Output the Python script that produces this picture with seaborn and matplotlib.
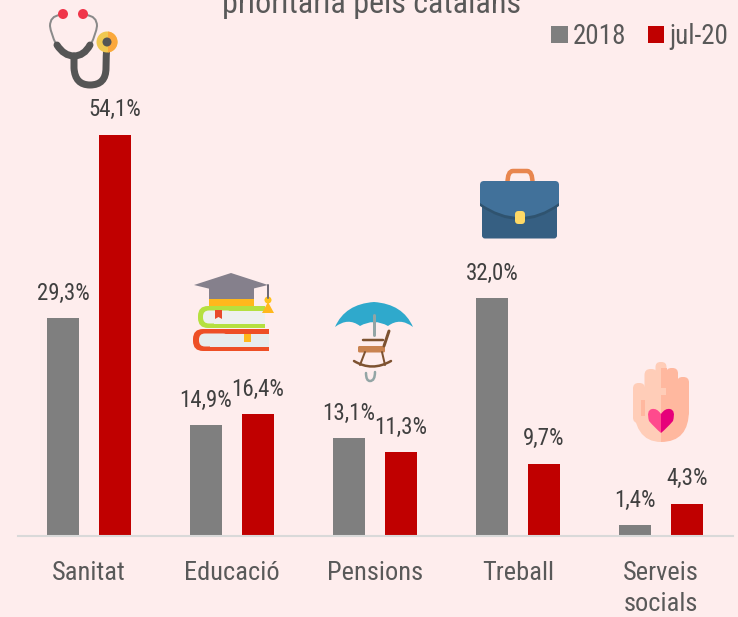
import numpy as np
import pandas as pd
import matplotlib.pyplot as plt
from matplotlib.patches import Circle, Rectangle, Polygon, FancyBboxPatch, PathPatch
from matplotlib.path import Path
import seaborn as sns

# data
temes = ['Sanitat', 'Educació', 'Pensions', 'Treball', 'Serveis\nsocials']
valors_2018 = [29.3, 14.9, 13.1, 32.0, 1.4]
valors_jul20 = [54.1, 16.4, 11.3, 9.7, 4.3]
series = ['2018', 'jul-20']
titol = 'prioritària pels catalans'

BG = '#FEEDED'
sns.set_theme(style='white')
plt.rcParams['font.family'] = ['Roboto Condensed', 'DejaVu Sans']
plt.rcParams['font.weight'] = 400

df = pd.DataFrame({
    'tema': temes * 2,
    'pct': valors_2018 + valors_jul20,
    'serie': [series[0]] * 5 + [series[1]] * 5,
})

fig = plt.figure(figsize=(7.38, 6.17), dpi=100, facecolor=BG)
ax = fig.add_axes([17.5 / 738, 1 - 535.5 / 617, 715 / 738, 535.5 / 617], facecolor='none')
sns.barplot(data=df, x='tema', y='pct', hue='serie', palette=['#7F7F7F', '#C00000'],
            width=0.727, gap=0.385, saturation=1, linewidth=0, ax=ax)
ax.set_xlim(-0.5, 4.5)
ax.set_ylim(0, 535.5 / 7.41)
ax.set_xlabel('')
ax.set_ylabel('')
ax.set_yticks([])
ax.tick_params(axis='x', length=0, pad=18.5, labelsize=19, labelcolor='#595959')
for lab in ax.get_xticklabels():
    lab.set_linespacing(1.37)
sns.despine(ax=ax, left=True)
ax.spines['bottom'].set_color('#D9D9D9')
ax.spines['bottom'].set_linewidth(1.5)

# value labels with a decimal comma
for cont, vals in zip(ax.containers, [valors_2018, valors_jul20]):
    ax.bar_label(cont, labels=[f'{v:.1f}%'.replace('.', ',') for v in vals],
                 padding=9.5, fontsize=16.5, color='#404040')

fig.text(372 / 738, 1 - 13 / 617, titol, ha='center', va='baseline', fontsize=23, color='#595959')

ax.legend(loc='upper right', bbox_to_anchor=((728 - 17.5) / 715, 1 - 23 / 535.5), frameon=False, ncols=2,
          fontsize=19.5, labelcolor='#595959', handlelength=0.6, handleheight=0.6,
          handletextpad=0.19, columnspacing=0.8, borderpad=0, borderaxespad=0)

# icons, in pixel coordinates on a transparent overlay
ic = fig.add_axes([0, 0, 1, 1], facecolor='none')
ic.set_xlim(0, 738)
ic.set_ylim(617, 0)
ic.axis('off')


def curve(pts, color, lw):
    codes = [Path.MOVETO] + [Path.CURVE3] * (len(pts) - 1)
    ic.add_patch(PathPatch(Path(pts, codes), fc='none', ec=color, lw=lw * 0.72, capstyle='round'))


def box(x, y, w, h, color, r=2):
    ic.add_patch(FancyBboxPatch((x + r, y + r), w - 2 * r, h - 2 * r, boxstyle=f'round,pad={r}',
                                fc=color, ec='none'))


def line(xs, ys, color, lw):
    ic.plot(xs, ys, color=color, lw=lw * 0.72, solid_capstyle='round')


# stethoscope
curve([(60, 15), (50, 16), (50, 26), (51, 34), (56, 44)], '#8A8A8A', 2)
curve([(86, 15), (97, 16), (97, 26), (96, 34), (91, 44)], '#8A8A8A', 2)
ic.add_patch(Circle((63, 14), 5, fc='#F0364A', ec='none'))
ic.add_patch(Circle((83, 14), 5, fc='#F0364A', ec='none'))
curve([(57, 45), (64, 56), (74, 56), (84, 56), (90, 45)], '#555555', 7)
curve([(74, 56), (74, 62), (74, 68), (75, 85), (90, 85), (106, 85), (106, 68), (106, 56), (107, 44)], '#555555', 7)
ic.add_patch(Circle((107, 42), 10.5, fc='#F0C850', ec='none'))
half = Rectangle((108, 31), 10, 22, fc='#FBA83C', ec='none')
ic.add_patch(half)
half.set_clip_path(Circle((107, 42), 10.5, transform=ic.transData))
ic.add_patch(Circle((107, 42), 4.5, fc='#555555', ec='none'))

# books and cap
box(193, 329, 40, 22, '#EE4F25', r=10)
ic.add_patch(Rectangle((205, 329), 64, 22, fc='#EE4F25', ec='none'))
box(199, 333.5, 30, 13, '#E8ECEC', r=6)
ic.add_patch(Rectangle((210, 333.5), 59, 13, fc='#E8ECEC', ec='none'))
ic.add_patch(Rectangle((244, 333.5), 7, 8, fc='#FFB81C', ec='none'))
box(198, 306, 40, 22, '#B5E03F', r=10)
ic.add_patch(Rectangle((210, 306), 55, 22, fc='#B5E03F', ec='none'))
box(203, 310.5, 30, 13, '#EEF0EE', r=6)
ic.add_patch(Rectangle((214, 310.5), 51, 13, fc='#EEF0EE', ec='none'))
ic.add_patch(Polygon([(215, 310), (222, 310), (222, 319), (218.5, 317), (215, 319)], fc='#E84A2A', ec='none'))
ic.add_patch(Rectangle((209, 285), 45, 15, fc='#85808C', ec='none'))
ic.add_patch(Rectangle((209, 299), 45, 7, fc='#FFB81C', ec='none'))
ic.add_patch(Polygon([(194, 285), (231, 273), (268, 285), (231, 294)], fc='#85808C', ec='none'))
line([268, 268], [285, 298], '#6E6A75', 2)
ic.add_patch(Circle((268, 300), 3.5, fc='#FFC21C', ec='none'))
ic.add_patch(Polygon([(262, 313), (274, 313), (268, 302)], fc='#FFB81C', ec='none'))

# umbrella and rocking chair
line([374, 374], [315, 335], '#93A5A5', 3)
canopy = [(335, 327), (345, 304), (374, 302), (403, 304), (413, 327),
          (400, 317), (388, 326), (374, 318), (360, 326), (348, 317), (335, 327)]
codes = [Path.MOVETO] + [Path.CURVE3] * 10
ic.add_patch(PathPatch(Path(canopy, codes), fc='#2FA9CC', ec='none'))
line([363, 383], [340, 340], '#7D5230', 2.5)
line([384, 389], [346, 331], '#7D5230', 3)
line([365, 360], [352, 365], '#7D5230', 2)
line([382, 385], [352, 365], '#7D5230', 2)
curve([(354, 361), (372, 372), (391, 361)], '#7D5230', 2.5)
box(358, 346, 27, 6.5, '#C98350', r=1.5)
curve([(375, 372), (375, 381), (370, 381), (366, 381), (366, 373)], '#93A5A5', 2.5)

# briefcase
handle = [(507.5, 183), (507.5, 171), (513, 171), (520, 171), (527, 171), (532.5, 171), (532.5, 183)]
curve(handle, '#E8864E', 4.5)
box(482, 195, 75, 43.5, '#365F82', r=3)
flap = [(480, 185), (480, 181), (484, 181), (555, 181), (559, 181), (559, 185), (559, 203),
        (520, 231), (480, 203), (480, 185)]
flap_codes = [Path.MOVETO, Path.CURVE3, Path.CURVE3, Path.LINETO, Path.CURVE3, Path.CURVE3,
              Path.LINETO, Path.CURVE3, Path.CURVE3, Path.CLOSEPOLY]
band = [(x, y + 3) for x, y in flap]
ic.add_patch(PathPatch(Path(band, flap_codes), fc='#2F536F', ec='none'))
ic.add_patch(PathPatch(Path(flap, flap_codes), fc='#41719A', ec='none'))
box(515, 211, 10, 13, '#FFD966', r=3.5)

# hand with heart
for x, top, w, col in [(639, 383, 12, '#FFCDB8'), (651, 369, 13, '#FFCDB8'),
                       (661, 362, 11, '#FFCDB8'), (672, 368, 12, '#FFB89F'), (683, 377, 12, '#FFB89F')]:
    box(x - w / 2, top, w, 40, col, r=w / 2 - 0.5)
ic.add_patch(Rectangle((661, 368), 5.5, 20, fc='#FFB89F', ec='none'))
ic.add_patch(PathPatch(Path([(633, 400), (633, 442), (661, 442), (661, 400), (633, 400)],
                            [Path.MOVETO, Path.CURVE3, Path.CURVE3, Path.LINETO, Path.CLOSEPOLY]),
                       fc='#FFCDB8', ec='none'))
ic.add_patch(PathPatch(Path([(661, 395), (689, 395), (689, 410), (689, 442), (661, 442), (661, 395)],
                            [Path.MOVETO, Path.LINETO, Path.LINETO, Path.CURVE3, Path.CURVE3, Path.CLOSEPOLY]),
                       fc='#FFB89F', ec='none'))
ic.add_patch(Rectangle((641, 400), 3.5, 16, fc='#FFB89F', ec='none'))
heart_l = [(661, 414), (657, 408), (652, 409), (646, 410), (649, 421), (655, 428), (661, 433)]
heart_r = [(661, 414), (665, 408), (670, 409), (676, 410), (673, 421), (667, 428), (661, 433)]
heart_codes = [Path.MOVETO] + [Path.CURVE3] * 6
ic.add_patch(PathPatch(Path(heart_l, heart_codes), fc='#FF4A8D', ec='none'))
ic.add_patch(PathPatch(Path(heart_r, heart_codes), fc='#E6007A', ec='none'))

fig.savefig('out.png', dpi=100, facecolor=BG)
